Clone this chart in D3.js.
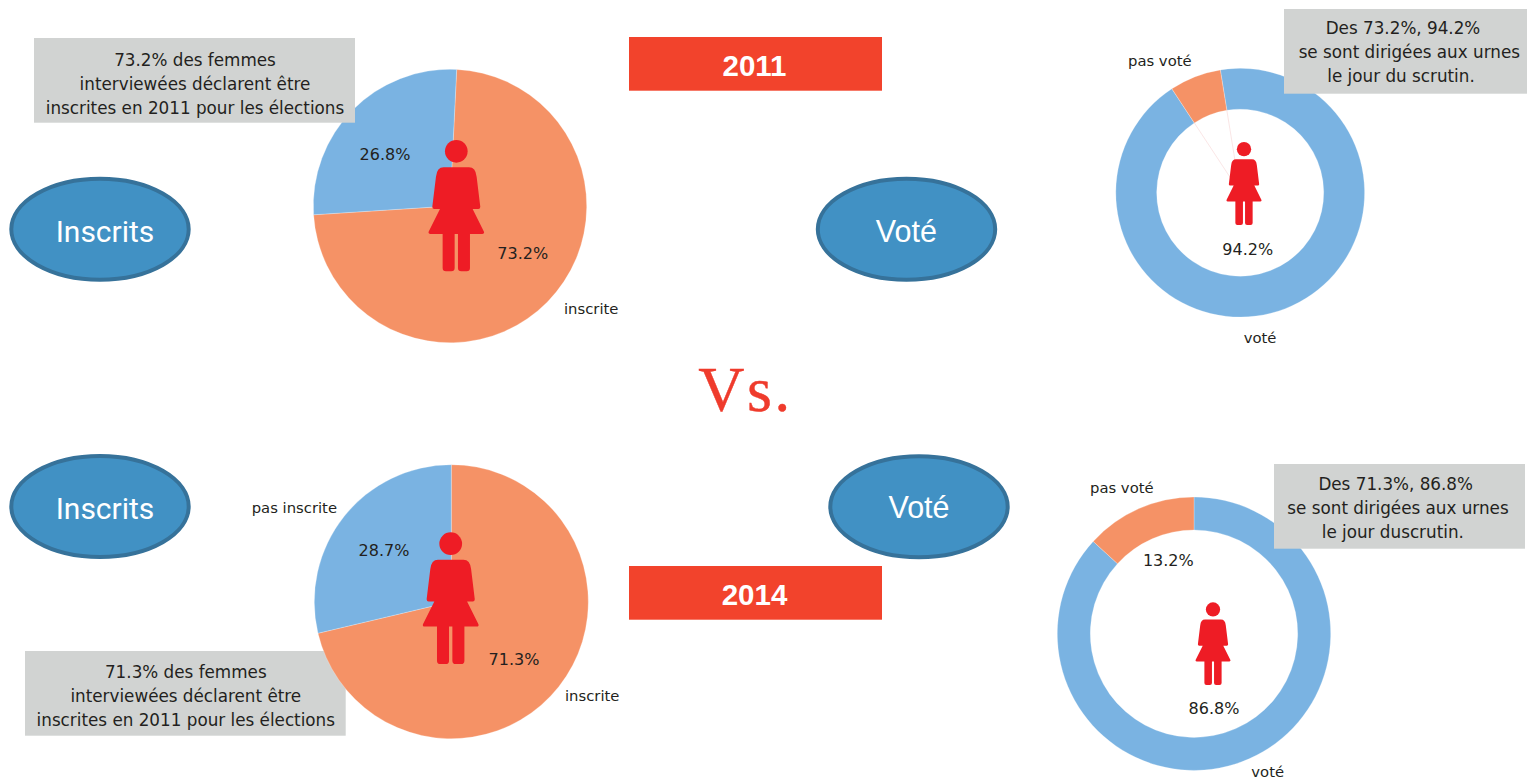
<!DOCTYPE html>
<html><head><meta charset="utf-8">
<style>html,body{margin:0;padding:0;background:#fff}svg{display:block}</style>
<script src="https://cdn.jsdelivr.net/npm/d3@7/dist/d3.min.js"></script>
</head><body><svg id="c" width="1527" height="781"></svg>
<script>
// Data
const sliceCategories = ["orange", "blue"];
const inscrites2011 = [73.2, 26.8];
const inscrites2014 = [71.3, 28.7];
const votes2011 = [6.7, 93.3];   // drawn wedge is about 24 degrees
const votes2014 = [13.2, 86.8];
const yearLabels = ["2011", "2014"];
const ovalLabels = ["Inscrits", "Voté", "Inscrits", "Voté"];
const note1 = ["73.2% des femmes", "interviewées déclarent être", "inscrites en 2011 pour les élections"];
const note2 = ["Des 73.2%, 94.2%", "se sont dirigées aux urnes", "le jour du scrutin."];
const note3 = ["71.3% des femmes", "interviewées déclarent être", "inscrites en 2011 pour les élections"];
const note4 = ["Des 71.3%, 86.8%", "se sont dirigées aux urnes", "le jour duscrutin."];

const svg = d3.select("#c");
const color = d3.scaleOrdinal().domain(sliceCategories).range(["#f59266", "#7ab3e2"]);
const rad = d => d * Math.PI / 180;
const TXT = "#231f20", UI = "'DejaVu Sans'";

function ring(cx, cy, values, startDeg, outer, inner, order) {
  const g = svg.append("g").attr("transform", `translate(${cx},${cy})`);
  const slices = d3.pie().sort(null).startAngle(rad(startDeg)).endAngle(rad(startDeg + 360))(values);
  const arc = d3.arc().innerRadius(inner).outerRadius(outer);
  g.selectAll("path").data(slices).join("path")
    .attr("d", arc)
    .attr("fill", (d, i) => color(sliceCategories[order[i]]))
    .attr("stroke", "#fff").attr("stroke-opacity", 0.5).attr("stroke-width", 0.5);
  return { g, slices };
}
function note(x, y, w, h, lines, centers, baselines) {
  svg.append("rect").attr("x", x).attr("y", y).attr("width", w).attr("height", h).attr("fill", "#d1d3d2");
  lines.forEach((t, i) => label(t, centers[i], baselines[i], "middle", 16.8));
}
function label(t, x, y, anchor, size) {
  svg.append("text").text(t).attr("x", x).attr("y", y).attr("text-anchor", anchor || "middle")
    .attr("font-family", UI).attr("font-size", size || 14).attr("fill", TXT);
}
function oval(cx, cy, t, tx, ty, font, size) {
  svg.append("ellipse").attr("cx", cx).attr("cy", cy).attr("rx", 88.7).attr("ry", 50.5)
    .attr("fill", "#4191c4").attr("stroke", "#36729a").attr("stroke-width", 4);
  svg.append("text").text(t).attr("x", tx).attr("y", ty).attr("text-anchor", "middle")
    .attr("font-family", font).attr("font-size", size).attr("fill", "#fff");
}
function banner(y, t, base) {
  svg.append("rect").attr("x", 629).attr("y", y).attr("width", 253).attr("height", 53.7).attr("fill", "#f2432c");
  svg.append("text").text(t).attr("x", 754.5).attr("y", base).attr("text-anchor", "middle")
    .attr("font-family", "'Liberation Sans'").attr("font-weight", "bold").attr("font-size", 29.5).attr("fill", "#fff");
}
const womanBody = "M-38,82L38,82Q58,82 61,110L72,200Q72,207 66,207L49,207L83,275Q85,282 78,282L41,282L41,384Q41,394 31,394L15,394Q5,394 5,384L5,282L-5,282L-5,384Q-5,394 -15,394L-31,394Q-41,394 -41,384L-41,282L-78,282Q-85,282 -83,275L-49,207L-66,207Q-72,207 -72,200L-61,110Q-58,82 -38,82Z";
function woman(x, top, height) {
  const s = height / 394;
  const g = svg.append("g").attr("transform", `translate(${x},${top}) scale(${s})`).attr("fill", "#ee1c25");
  g.append("circle").attr("cx", 0).attr("cy", 34).attr("r", 34);
  g.append("path").attr("d", womanBody);
}

// Order: notes 1, 2, 4 sit over their charts, note 3 sits under its pie
note(25, 651, 320.7, 84.7, note3, [185.8, 185.8, 185.8], [677.7, 701.7, 726]);

ring(450, 206, inscrites2011, 2.8, 136.7, 0, [0, 1]);
ring(451.3, 601.7, inscrites2014, 0, 137, 0, [0, 1]);

// 2011 donut: blue starts at the wedge's right edge
const d1 = ring(1240.2, 192.7, [votes2011[1], votes2011[0]], -9.2, 124.4, 83.5, [1, 0]);
const wedge = d1.slices[1];
[wedge.startAngle, wedge.endAngle].forEach(a => {
  const [x, y] = d3.pointRadial(a, 83.5);
  d1.g.append("line").attr("x1", 0).attr("y1", 0).attr("x2", x).attr("y2", y)
    .attr("stroke", "#f6d5d5").attr("stroke-width", 0.6);
});
// 2014 donut
ring(1194, 633.7, [votes2014[1], votes2014[0]], 0, 136.7, 103.7, [1, 0]);

woman(456.3, 140, 131.3);
woman(450.7, 532.3, 131.7);
woman(1244, 142, 83);
woman(1213, 602.3, 82.7);

note(34, 38, 321, 84.7, note1, [195, 195, 195], [65.7, 90, 114]);
note(1284, 9, 243, 84.7, note2, [1403, 1409.3, 1401], [34, 58.3, 82.3]);
note(1274, 464, 251, 84.7, note4, [1395.7, 1398, 1392.8], [490, 514.3, 538.3]);

banner(37, yearLabels[0], 75.5);
banner(566, yearLabels[1], 604.5);

oval(100, 229.2, ovalLabels[0], 105, 241.7, "Roboto", 30);
oval(906.5, 229.3, ovalLabels[1], 906.4, 242, "'Liberation Sans'", 30.5);
oval(100, 506.5, ovalLabels[2], 105, 519, "Roboto", 30);
oval(919, 506.7, ovalLabels[3], 919, 518.3, "'Liberation Sans'", 30.5);

svg.append("text").text("Vs.").attr("x", 745.5).attr("y", 411).attr("text-anchor", "middle")
  .attr("font-family", "'Liberation Serif'").attr("font-size", 64).attr("letter-spacing", 2.5)
  .attr("fill", "#ef3b2c").attr("stroke", "#ef3b2c").attr("stroke-width", 0.4);

const PCT = 16, SMALL = 14.8;
label(inscrites2011[1] + "%", 385, 160, "middle", PCT);
label(inscrites2011[0] + "%", 522.7, 259.3, "middle", PCT);
label("inscrite", 564, 314, "start", SMALL);

label("pas voté", 1128, 66, "start", SMALL);
label("94.2%", 1247.7, 255, "middle", PCT);
label("voté", 1260, 343, "middle", SMALL);

label("pas inscrite", 251.7, 513, "start", SMALL);
label(inscrites2014[1] + "%", 384, 555.7, "middle", PCT);
label(inscrites2014[0] + "%", 514, 665, "middle", PCT);
label("inscrite", 565, 701, "start", SMALL);

label("pas voté", 1090, 492.7, "start", SMALL);
label(votes2014[0] + "%", 1168.3, 565.7, "middle", PCT);
label(votes2014[1] + "%", 1214, 714, "middle", PCT);
label("voté", 1267.7, 777, "middle", SMALL);
</script></body></html>
